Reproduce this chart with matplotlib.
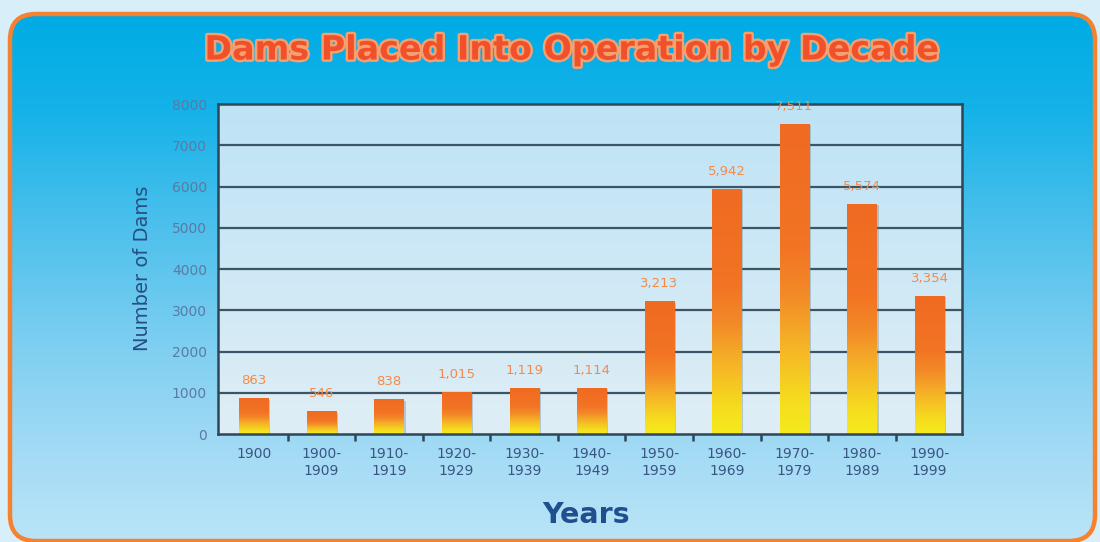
import numpy as np
import matplotlib
matplotlib.use("Agg")
import matplotlib.pyplot as plt
from matplotlib.colors import LinearSegmentedColormap
from matplotlib.patches import FancyBboxPatch, Rectangle
import matplotlib.patheffects as pe

# Data
decades = ["1900", "1900-\n1909", "1910-\n1919", "1920-\n1929", "1930-\n1939",
           "1940-\n1949", "1950-\n1959", "1960-\n1969", "1970-\n1979",
           "1980-\n1989", "1990-\n1999"]
dams = [863, 546, 838, 1015, 1119, 1114, 3213, 5942, 7511, 5574, 3354]
yticks = [0, 1000, 2000, 3000, 4000, 5000, 6000, 7000, 8000]

W, H = 1100, 542
fig = plt.figure(figsize=(W / 100, H / 100), dpi=100)
fig.patch.set_facecolor("#d8eef9")

# ---- panel background with rounded orange frame ----
bg = fig.add_axes([0, 0, 1, 1], zorder=-5)
bg.set_xlim(0, W)
bg.set_ylim(H, 0)
bg.axis("off")
panel_cmap = LinearSegmentedColormap.from_list(
    "panel", [(0.0, "#00abe5"), (0.18, "#14b2e8"), (0.4, "#4cc0ec"),
              (0.65, "#82d0f1"), (0.85, "#a6dcf5"), (1.0, "#bae4f7")])
grad = np.linspace(0, 1, 256).reshape(-1, 1)
frame = FancyBboxPatch((10, 14), 1085, 527, boxstyle="round,pad=0,rounding_size=26",
                       facecolor="none", edgecolor="#f5822f", linewidth=3.2, zorder=3)
bg.add_patch(frame)
img = bg.imshow(grad, extent=(10, 1095, 541, 14), cmap=panel_cmap, aspect="auto",
                origin="upper", zorder=1)
img.set_clip_path(frame)

# ---- title ----
fig.text(0.52, 1 - 50 / H, "Dams Placed Into Operation by Decade",
         ha="center", va="center", fontsize=24, fontweight="bold",
         family="DejaVu Sans", color="#f0502a",
         path_effects=[pe.withStroke(linewidth=3.5, foreground="#f4a070")])

# ---- chart axes ----
left, right, top, bottom = 218, 962, 104, 434
ax = fig.add_axes([left / W, 1 - bottom / H, (right - left) / W, (bottom - top) / H])
x = np.arange(len(dams))
x0, x1 = -0.53, len(dams) - 0.52

area_cmap = LinearSegmentedColormap.from_list("area", ["#dfeef6", "#bee3f5"])
ax.imshow(grad[::-1], extent=(x0, x1, 0, 8000), cmap=area_cmap,
          aspect="auto", origin="upper", zorder=0)

for yv in yticks[1:-1]:
    ax.axhline(yv, color="#3b5566", linewidth=1.6, zorder=1)

bar_cmap = LinearSegmentedColormap.from_list(
    "bar", [(0.0, "#f5ea1c"), (0.1, "#f6de1e"), (0.3, "#f5b027"),
            (0.45, "#f38a28"), (0.6, "#f27424"), (1.0, "#f06a22")])
bars = ax.bar(x, dams, width=0.43, color="none", edgecolor="none", zorder=3)
for b in bars:
    bx, bw, bh = b.get_x(), b.get_width(), b.get_height()
    # soft drop shadow on the right
    ax.add_patch(Rectangle((bx + 0.03, 0), bw, bh - 30, facecolor="#6a7f8a",
                           alpha=0.35, edgecolor="none", zorder=2))
    im = ax.imshow(grad, extent=(bx, bx + bw, 0, bh), cmap=bar_cmap,
                   aspect="auto", origin="lower", zorder=3)
    im.set_clip_path(b)
ax.set_xlim(x0, x1)
ax.set_ylim(0, 8000)

for xi, v in zip(x, dams):
    ax.annotate(f"{v:,}", (xi, v), xytext=(0, 8), textcoords="offset points",
                ha="center", va="bottom", fontsize=9.5, color="#f58a48",
                family="DejaVu Sans", zorder=6, annotation_clip=False)

for side in ["left", "bottom", "right", "top"]:
    ax.spines[side].set_color("#2f4656")
    ax.spines[side].set_linewidth(1.8)
    ax.spines[side].set_zorder(4)

ax.set_yticks(yticks)
ax.set_yticklabels([str(t) for t in yticks], fontsize=10, color="#5a7aa6",
                   family="DejaVu Sans")
ax.tick_params(axis="y", length=0, pad=8)

ax.set_xticks(np.arange(len(dams) - 1) + 0.5)
ax.set_xticklabels([])
ax.tick_params(axis="x", which="major", length=5, width=1.8, color="#2f4656",
               direction="out")
ax.set_xticks(x, minor=True)
ax.set_xticklabels(decades, minor=True, fontsize=10, color="#3a5582",
                   family="DejaVu Sans", linespacing=1.35)
ax.tick_params(axis="x", which="minor", length=0, pad=9)

fig.text(142 / W, 1 - 268 / H, "Number of Dams", rotation=90, ha="center",
         va="center", fontsize=14, color="#2b4d80", family="DejaVu Sans")
fig.text(586 / W, 1 - 515 / H, "Years", ha="center", va="center",
         fontsize=20.5, fontweight="bold", color="#1f4f8f", family="DejaVu Sans")

fig.savefig("out.png", dpi=100, facecolor=fig.get_facecolor())
